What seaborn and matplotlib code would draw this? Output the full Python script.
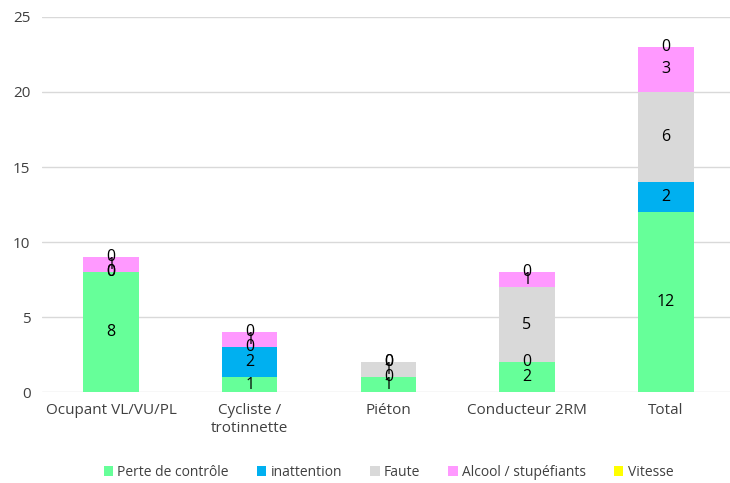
import numpy as np
import pandas as pd
import matplotlib
matplotlib.use("Agg")
import matplotlib.pyplot as plt
import seaborn as sns

# data
categories = ["Ocupant VL/VU/PL", "Cycliste /\ntrotinnette", "Piéton", "Conducteur 2RM", "Total"]
perte_controle = [8, 1, 1, 2, 12]
inattention = [0, 2, 0, 0, 2]
faute = [0, 0, 1, 5, 6]
alcool = [1, 1, 0, 1, 3]
vitesse = [0, 0, 0, 0, 0]

series_names = ["Perte de contrôle", "inattention", "Faute", "Alcool / stupéfiants", "Vitesse"]
series_values = [perte_controle, inattention, faute, alcool, vitesse]
colors = ["#66FF99", "#00B0F0", "#D9D9D9", "#FF99FF", "#FFFF00"]

sns.set_style("white")
plt.rcParams["font.family"] = ["Open Sans", "DejaVu Sans"]

fig = plt.figure(figsize=(7.3, 4.83), dpi=100)
ax = fig.add_axes([0.057, 0.188, 0.95, 0.777])

bottom = np.zeros(len(categories))
for name, vals, col in zip(series_names, series_values, colors):
    df = pd.DataFrame({"cat": categories, "val": vals})
    sns.barplot(data=df, x="cat", y="val", color=col, width=0.4,
                bottom=bottom, ax=ax, label=name, saturation=1, linewidth=0)
    bottom = bottom + np.array(vals)

for cont in ax.containers:
    ax.bar_label(cont, label_type="center", fontsize=11.5, color="black")

ax.set_ylim(0, 25)
ax.set_yticks(range(0, 26, 5))
ax.yaxis.grid(True, color="#D9D9D9", linewidth=1)
ax.set_axisbelow(True)
for s in ax.spines.values():
    s.set_visible(False)
ax.tick_params(axis="both", length=0, labelsize=11, colors="#404040", pad=8)
ax.set_xlabel("")
ax.set_ylabel("")

ax.legend(loc="upper center", bbox_to_anchor=(0.5, -0.16), ncol=5, frameon=False,
          fontsize=10, handlelength=0.7, handleheight=0.7, handletextpad=0.3,
          columnspacing=2.0, labelcolor="#404040")

fig.savefig("out.png", dpi=100)
